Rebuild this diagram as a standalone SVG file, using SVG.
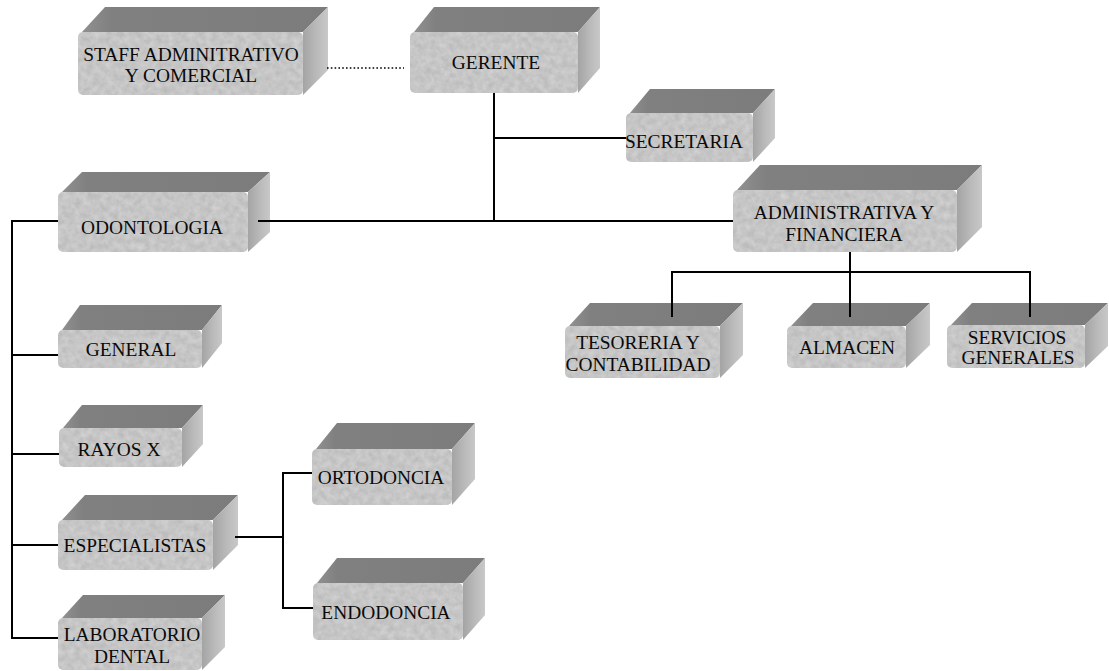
<svg xmlns="http://www.w3.org/2000/svg" width="1109" height="671" viewBox="0 0 1109 671">
<defs>
<linearGradient id="sideG" x1="0" y1="0" x2="1" y2="0">
<stop offset="0" stop-color="#a4a4a4"/>
<stop offset="0.55" stop-color="#bababa"/>
<stop offset="1" stop-color="#c8c8c8"/>
</linearGradient>
<linearGradient id="topG" x1="0" y1="0" x2="1" y2="0">
<stop offset="0" stop-color="#909090"/>
<stop offset="0.12" stop-color="#808080"/>
<stop offset="1" stop-color="#7c7c7c"/>
</linearGradient>
<filter id="grain" x="0" y="0" width="1" height="1" color-interpolation-filters="sRGB">
<feTurbulence type="fractalNoise" baseFrequency="0.16" numOctaves="3" seed="7" result="n"/>
<feColorMatrix in="n" type="matrix" values="0.13 0 0 0 0.71  0.13 0 0 0 0.71  0.13 0 0 0 0.71  0 0 0 0 1" result="g"/>
<feComposite in="g" in2="SourceGraphic" operator="in"/>
</filter>
</defs>
<style>
.top{fill:url(#topG);}
.side{fill:url(#sideG);}
.front{fill:#c2c2c2;filter:url(#grain);}
.lbl{font-family:"Liberation Serif","Times New Roman",serif;font-size:19.4px;fill:#0a0a0a;text-anchor:middle;}
.ln{stroke:#000;stroke-width:2;fill:none;}
.dot{stroke:#000;stroke-width:1.6;fill:none;stroke-dasharray:1.6 2.2;}
</style>
<rect width="1109" height="671" fill="#fff"/>

<g id="staff">
<polygon class="top" points="82,32 105,7 328,7 303,32"/>
<polygon class="side" points="303,32 328,7 328,70 303,95"/>
<rect class="front" x="78" y="32" width="225" height="63" rx="5"/>
<text class="lbl" x="191" y="61">STAFF ADMINITRATIVO</text>
<text class="lbl" x="191" y="82">Y COMERCIAL</text>
</g>

<g id="gerente">
<polygon class="top" points="414,32 434,7 600,7 578,32"/>
<polygon class="side" points="578,32 600,7 600,68 578,93"/>
<rect class="front" x="410" y="32" width="168" height="61" rx="5"/>
<text class="lbl" x="496" y="69">GERENTE</text>
</g>

<g id="secretaria">
<polygon class="top" points="630,113 650,89 775,89 753,113"/>
<polygon class="side" points="753,113 775,89 775,138 753,162"/>
<rect class="front" x="626" y="113" width="127" height="49" rx="5"/>
<text class="lbl" x="684" y="148">SECRETARIA</text>
</g>

<g id="odontologia">
<polygon class="top" points="62,192 82,172 270,172 248,192"/>
<polygon class="side" points="248,192 270,172 270,232 248,252"/>
<rect class="front" x="58" y="192" width="190" height="60" rx="5"/>
<text class="lbl" x="152" y="234">ODONTOLOGIA</text>
</g>

<g id="administrativa">
<polygon class="top" points="737,190 760,165 982,165 957,190"/>
<polygon class="side" points="957,190 982,165 982,227 957,252"/>
<rect class="front" x="733" y="190" width="224" height="62" rx="5"/>
<text class="lbl" x="844" y="219">ADMINISTRATIVA Y</text>
<text class="lbl" x="844" y="241">FINANCIERA</text>
</g>

<g id="tesoreria">
<polygon class="top" points="569,326 590,303 743,303 720,326"/>
<polygon class="side" points="720,326 743,303 743,355 720,378"/>
<rect class="front" x="565" y="326" width="155" height="52" rx="5"/>
<text class="lbl" x="638" y="349">TESORERIA Y</text>
<text class="lbl" x="638" y="371">CONTABILIDAD</text>
</g>

<g id="almacen">
<polygon class="top" points="791,326 813,303 930,303 906,326"/>
<polygon class="side" points="906,326 930,303 930,345 906,368"/>
<rect class="front" x="787" y="326" width="119" height="42" rx="5"/>
<text class="lbl" x="847" y="354">ALMACEN</text>
</g>

<g id="servicios">
<polygon class="top" points="951,325 972,303 1108,303 1085,325"/>
<polygon class="side" points="1085,325 1108,303 1108,346 1085,368"/>
<rect class="front" x="947" y="325" width="138" height="43" rx="5"/>
<text class="lbl" x="1017" y="344">SERVICIOS</text>
<text class="lbl" x="1018" y="364">GENERALES</text>
</g>

<g id="general">
<polygon class="top" points="62,330 80,305 222,305 202,330"/>
<polygon class="side" points="202,330 222,305 222,343 202,368"/>
<rect class="front" x="58" y="330" width="144" height="38" rx="5"/>
<text class="lbl" x="131" y="356">GENERAL</text>
</g>

<g id="rayosx">
<polygon class="top" points="63,428 82,405 203,405 182,428"/>
<polygon class="side" points="182,428 203,405 203,444 182,467"/>
<rect class="front" x="59" y="428" width="123" height="39" rx="5"/>
<text class="lbl" x="119" y="456">RAYOS X</text>
</g>

<g id="especialistas">
<polygon class="top" points="62,520 85,495 238,495 213,520"/>
<polygon class="side" points="213,520 238,495 238,545 213,570"/>
<rect class="front" x="58" y="520" width="155" height="50" rx="5"/>
<text class="lbl" x="135" y="552">ESPECIALISTAS</text>
</g>

<g id="laboratorio">
<polygon class="top" points="62,618 83,595 225,595 202,618"/>
<polygon class="side" points="202,618 225,595 225,647 202,670"/>
<rect class="front" x="58" y="618" width="144" height="52" rx="5"/>
<text class="lbl" x="132" y="641">LABORATORIO</text>
<text class="lbl" x="132" y="663">DENTAL</text>
</g>

<g id="ortodoncia">
<polygon class="top" points="316,449 337,423 475,423 452,449"/>
<polygon class="side" points="452,449 475,423 475,479 452,505"/>
<rect class="front" x="312" y="449" width="140" height="56" rx="5"/>
<text class="lbl" x="381" y="484">ORTODONCIA</text>
</g>

<g id="endodoncia">
<polygon class="top" points="317,583 337,558 485,558 463,583"/>
<polygon class="side" points="463,583 485,558 485,615 463,640"/>
<rect class="front" x="313" y="583" width="150" height="57" rx="5"/>
<text class="lbl" x="386" y="619">ENDODONCIA</text>
</g>

<g id="connectors">
<path class="dot" d="M327,68 H404"/>
<path class="ln" d="M494,93 V221"/>
<path class="ln" d="M494,138 H626"/>
<path class="ln" d="M258,221 H733"/>
<path class="ln" d="M58,221 H12 V638 H58"/>
<path class="ln" d="M12,355 H58"/>
<path class="ln" d="M12,454 H59"/>
<path class="ln" d="M12,545 H58"/>
<path class="ln" d="M850,252 V272"/>
<path class="ln" d="M672,317 V272 H1030 V317"/>
<path class="ln" d="M850,272 V317"/>
<path class="ln" d="M235,537 H283"/>
<path class="ln" d="M312,473 H283 V608 H313"/>
</g>
</svg>
